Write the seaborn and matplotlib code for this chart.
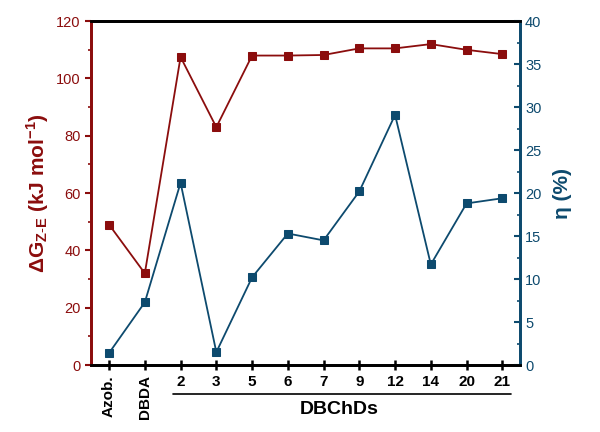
import numpy as np
import pandas as pd
import matplotlib
matplotlib.use('Agg')
import matplotlib.pyplot as plt
import seaborn as sns

#---------------------------------------------------------
f_out='out.png'
samples=['Azob.', 'DBDA', '2', '3', '5', '6', '7', '9', '12', '14', '20', '21']
dg=[49, 32, 107.5, 83, 108, 108, 108.2, 110.5, 110.5, 112, 110, 108.5]
eta=[1.4, 7.3, 21.2, 1.5, 10.2, 15.3, 14.5, 20.2, 29.1, 11.7, 18.8, 19.4]

c_red='#8b0d0d'
c_blue='#0d4a6e'

#--------------------------------------------------------
df=pd.DataFrame({'pos': np.arange(len(samples)), 'sample': samples, 'dg': dg, 'eta': eta})

sns.set_style('ticks')
plt.rcParams['font.family']=['Liberation Sans', 'DejaVu Sans']
plt.rcParams['text.color']='black'
plt.rcParams['mathtext.fontset']='custom'
plt.rcParams['mathtext.rm']='Liberation Sans'
plt.rcParams['mathtext.bf']='Liberation Sans:bold'

fig=plt.figure(figsize=(6, 4.32), dpi=100)
ax=fig.add_axes([0.152, 0.155, 0.715, 0.796])
ax2=ax.twinx()

#plot
sns.lineplot(data=df, x='pos', y='dg', ax=ax, color=c_red, marker='s', markersize=5.5,
	markeredgecolor=c_red, linewidth=1.3, sort=False)
sns.lineplot(data=df, x='pos', y='eta', ax=ax2, color=c_blue, marker='s', markersize=5.5,
	markeredgecolor=c_blue, linewidth=1.3, sort=False)

#adjust
ax.set_xlim(-0.5, 11.5)
ax.set_ylim(0, 120)
ax2.set_ylim(0, 40)
ax.set_yticks(np.arange(0, 121, 20))
ax.set_yticks(np.arange(10, 120, 20), minor=True)
ax2.set_yticks(np.arange(0, 41, 5))
ax2.set_yticks(np.arange(2.5, 40, 5), minor=True)

ax.set_xticks(df['pos'])
ax.set_xticklabels(samples, fontsize=11, weight='bold')
for i, lbl in enumerate(ax.get_xticklabels()):
	if i<2:
		lbl.set_rotation(90)
		lbl.set_va('top')
ax.tick_params(axis='x', direction='inout', length=7, width=1.8, pad=4, colors='black')
ax.tick_params(axis='y', which='major', direction='out', length=4, width=1.5, colors=c_red, labelsize=10.5)
ax.tick_params(axis='y', which='minor', direction='out', length=2.5, width=1.2, colors=c_red)
ax2.tick_params(axis='y', which='major', direction='in', length=4, width=1.5, colors=c_blue, labelsize=10.5)
ax2.tick_params(axis='y', which='minor', direction='in', length=2.5, width=1.2, colors=c_blue)

for a in [ax, ax2]:
	for s in a.spines.values():
		s.set_linewidth(2)
	a.spines['bottom'].set_color('black')
	a.spines['top'].set_color('black')
	a.spines['left'].set_color(c_red)
	a.spines['right'].set_color(c_blue)
	a.grid(False)

ax.set_xlabel('')
ax.set_ylabel(r'$\mathbf{\Delta G_{Z\text{-}E}}$ (kJ mol$^{\mathbf{-1}}$)', fontsize=15, weight='bold',
	color=c_red, labelpad=4)
ax2.set_ylabel('η (%)', fontsize=15, weight='bold', color=c_blue, labelpad=8)

#group annotation
tr=ax.get_xaxis_transform()
ax.plot([1.8, 11.25], [-0.083, -0.083], transform=tr, color='black', linewidth=1.2, clip_on=False)
ax.text(6.45, -0.13, 'DBChDs', transform=tr, fontsize=14, weight='bold', color='black',
	ha='center', va='center')

#save
plt.savefig(f_out, dpi=100)
plt.close()
